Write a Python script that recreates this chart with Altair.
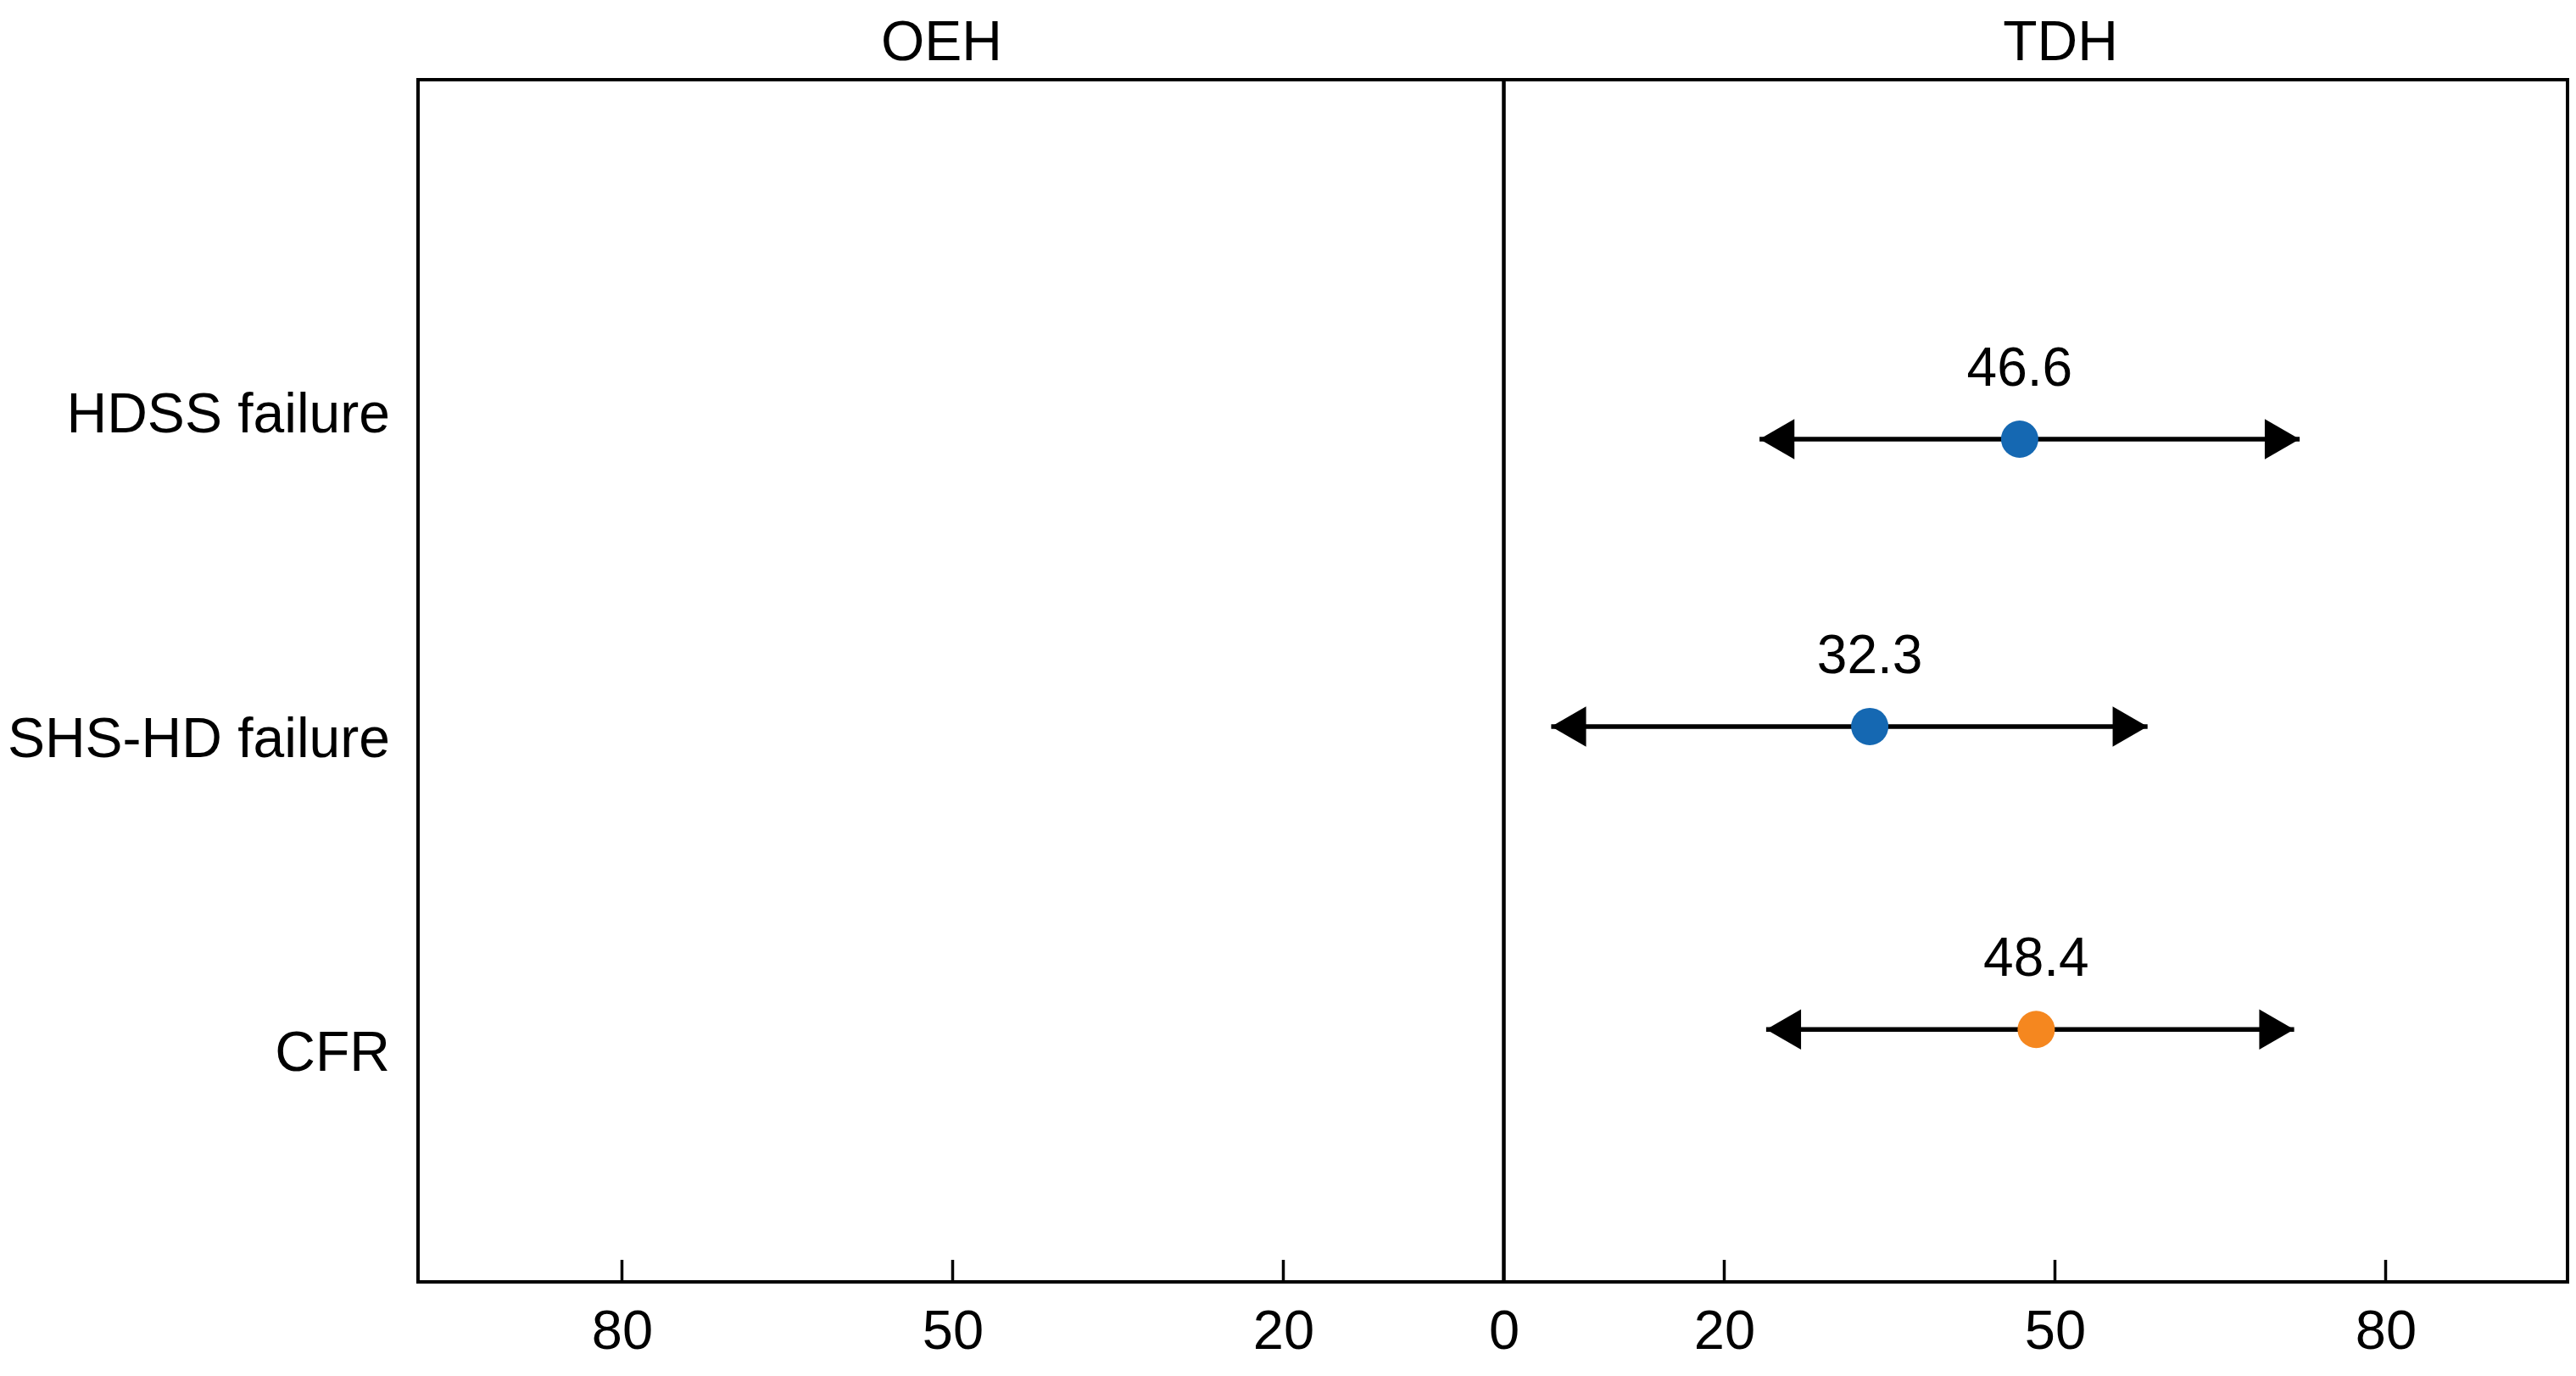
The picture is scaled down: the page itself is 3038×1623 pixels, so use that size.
import altair as alt
import pandas as pd

# ---- data ----
outcomes = ["HDSS failure", "SHS-HD failure", "CFR"]
estimates = [46.8, 33.2, 48.3]          # plotted position of the dot
est_labels = ["46.6", "32.3", "48.4"]   # printed value above the dot
ci_low = [23.2, 4.3, 23.8]
ci_high = [72.2, 58.4, 71.7]
row_pos = [2.99, 5.38, 7.90]            # vertical position of each row (0 = top, 10 = bottom)
label_pos = [2.76, 5.46, 8.07]          # vertical position of each row label
kind = ["failure", "failure", "cfr"]
kind_domain = ["failure", "cfr"]
kind_colors = ["#1568b2", "#f5871f"]

tick_values = [-80, -50, -20, 0, 20, 50, 80]
inner_ticks = [-80, -50, -20, 20, 50, 80]
panel_titles = ["OEH", "TDH"]
panel_title_x = [-51, 50.5]
zero_line = [0]

x_domain = [-98.5, 96.5]
y_domain = [0, 10]

# ---- layout / style ----
W, H = 2535, 1418
FONT = "Liberation Sans"
TICK_LEN = 26
HEAD_OFF = 20.6

rows = pd.DataFrame({
    "outcome": outcomes, "est": estimates, "lab": est_labels,
    "lo": ci_low, "hi": ci_high, "row": row_pos, "lpos": label_pos, "kind": kind,
})
ticks_df = pd.DataFrame({"v": inner_ticks})
zero_df = pd.DataFrame({"v": zero_line})
titles_df = pd.DataFrame({"t": panel_titles, "x": panel_title_x})

xs = alt.Scale(domain=x_domain, nice=False, zero=False)
ys = alt.Scale(domain=y_domain, nice=False, zero=False, reverse=True)

x_axis = alt.Axis(
    values=tick_values, labelExpr="format(abs(datum.value), 'd')", title=None,
    domain=False, ticks=False, tickSize=0, grid=False,
    labelFontSize=65, labelFont=FONT, labelColor="black", labelPadding=27,
)

tick_rules = alt.Chart(ticks_df).mark_rule(color="black", strokeWidth=3.5).encode(
    x=alt.X("v:Q", scale=xs, axis=x_axis),
    y=alt.value(H), y2=alt.value(H - TICK_LEN),
)

zero_rule = alt.Chart(zero_df).mark_rule(color="black", strokeWidth=4.5).encode(
    x=alt.X("v:Q", scale=xs),
    y=alt.value(0), y2=alt.value(H),
)

base = alt.Chart(rows)

ci = base.mark_rule(color="black", strokeWidth=5.5).encode(
    x=alt.X("lo:Q", scale=xs), x2="hi:Q",
    y=alt.Y("row:Q", scale=ys, axis=None),
)

left_head = base.mark_point(shape="triangle-left", filled=True, size=2256,
                            color="black", opacity=1, xOffset=HEAD_OFF).encode(
    x=alt.X("lo:Q", scale=xs), y=alt.Y("row:Q", scale=ys, axis=None),
)
right_head = base.mark_point(shape="triangle-right", filled=True, size=2256,
                             color="black", opacity=1, xOffset=-HEAD_OFF).encode(
    x=alt.X("hi:Q", scale=xs), y=alt.Y("row:Q", scale=ys, axis=None),
)

dots = base.mark_circle(size=1936, opacity=1).encode(
    x=alt.X("est:Q", scale=xs), y=alt.Y("row:Q", scale=ys, axis=None),
    color=alt.Color("kind:N", scale=alt.Scale(domain=kind_domain, range=kind_colors), legend=None),
)

values = base.mark_text(font=FONT, fontSize=64, color="black", baseline="middle",
                        align="center", dy=-82).encode(
    x=alt.X("est:Q", scale=xs), y=alt.Y("row:Q", scale=ys, axis=None),
    text="lab:N",
)

row_labels = base.mark_text(font=FONT, fontSize=66, color="black", baseline="middle",
                            align="right", dy=5).encode(
    x=alt.value(-33), y=alt.Y("lpos:Q", scale=ys, axis=None),
    text="outcome:N",
)

titles = alt.Chart(titles_df).mark_text(font=FONT, fontSize=66, color="black",
                                        baseline="middle", align="center").encode(
    x=alt.X("x:Q", scale=xs), y=alt.value(-43), text="t:N",
)

chart = alt.layer(
    tick_rules, zero_rule, ci, left_head, right_head, dots, values, row_labels, titles
).properties(
    width=W, height=H,
    autosize=alt.AutoSizeParams(type="none"),
    padding={"left": 485, "top": 86, "right": 2, "bottom": 95},
    background="white",
).configure_view(stroke="black", strokeWidth=4)

chart.save("out.html", embed_options={"renderer": "svg", "actions": False})
